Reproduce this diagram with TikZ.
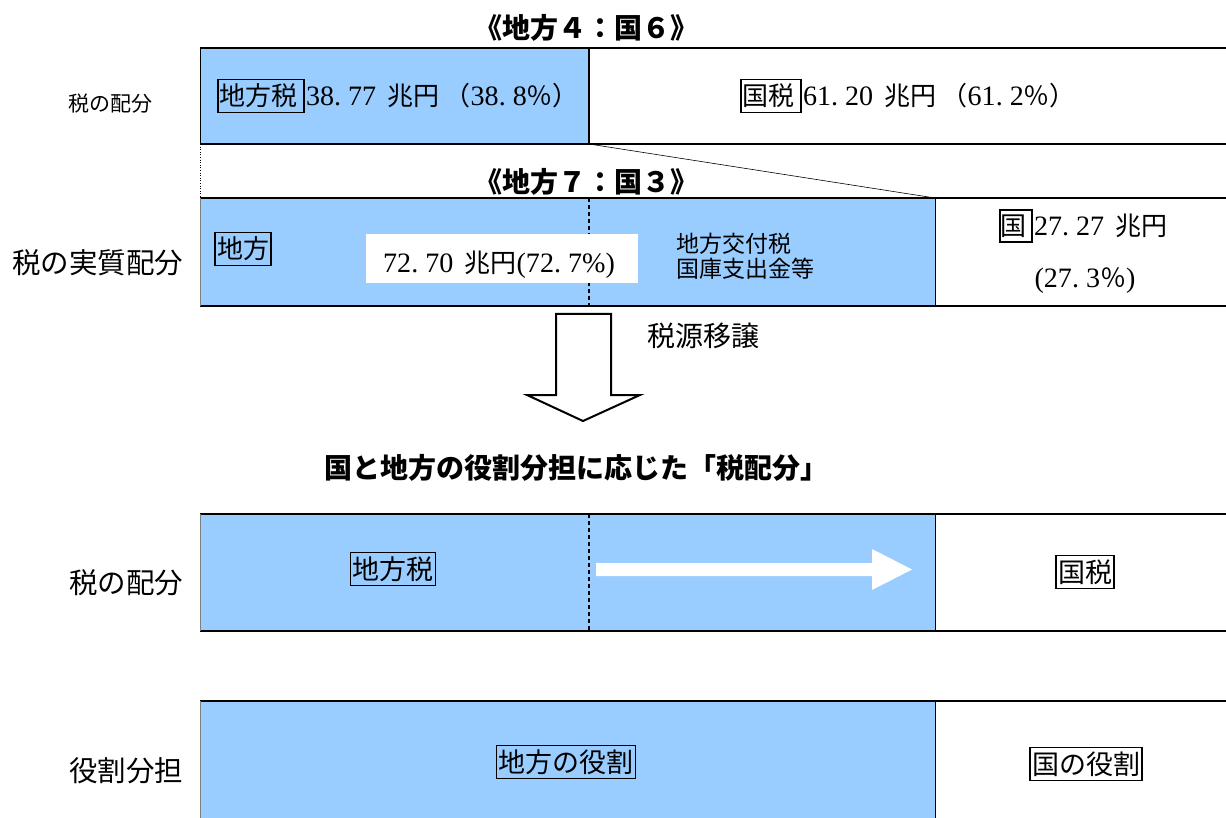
\documentclass[tikz,border=0pt]{standalone}
\usepackage{fontspec}
\setmainfont[Scale=1.08]{Liberation Serif}
\newfontfamily\jp{Noto Sans CJK JP}
\usetikzlibrary{calc}
\definecolor{lblue}{RGB}{153,204,255}
\newcommand{\pd}{\makebox[0.5em][l]{.}}
\tikzset{
  hline/.style={line width=2pt},
  vthin/.style={line width=0.8pt},
  divdash/.style={line width=1.2pt, dash pattern=on 4pt off 3pt},
  boxlbl/.style={draw, line width=1.4pt, inner xsep=2pt, inner ysep=4.5pt, font=\jp\fontsize{26}{30}\selectfont},
  boxlblb/.style={boxlbl, inner ysep=4pt, font=\jp\fontsize{27}{30}\selectfont},
  txt/.style={inner sep=0pt, font=\fontsize{26}{30}\selectfont},
  jptxt/.style={inner sep=0pt, font=\jp\fontsize{#1}{#1}\selectfont},
  title/.style={inner sep=0pt, font=\jp\bfseries\fontsize{28}{30}\selectfont},
}
\begin{document}
\begin{tikzpicture}[x=1pt,y=-1pt]
\useasboundingbox (0,0) rectangle (1226,818);
\clip (0,0) rectangle (1226,818);
% ---------- row 1 ----------
\fill[lblue] (200,48) rectangle (589,144);
\draw[hline] (200,48) -- (1240,48);
\draw[hline] (200,144) -- (1240,144);
\draw[vthin] (200,48) -- (200,144);
\draw[line width=2pt] (589,48) -- (589,144);
\node[title] (t1) at (586,28) {《地方４：国６》};
\node[jptxt=21] (lab1) at (110,104) {税の配分};
\node[boxlbl, fill=lblue] (b1) at (261,96) {地方税\,};
\node[txt, anchor=west] (n1) at ($(b1.east)+(1,0)$) {38\pd77\hspace{0.4em}{\jp 兆円\hspace{0.2em}（}38\pd8{\jp ％）}};
\node[boxlbl, fill=white] (b2) at (771,96) {国税\,};
\node[txt, anchor=west] (n2) at ($(b2.east)+(1,0)$) {61\pd20\hspace{0.4em}{\jp 兆円\hspace{0.2em}（}61\pd2{\jp ％）}};
% connectors between rows
\coordinate (c1) at (589,144);
\coordinate (c2) at (935,198);
\coordinate (c3) at (200,144);
\coordinate (c4) at (200,198);
\draw[line width=0.6pt] (c1) -- (c2);
\draw[line width=0.6pt, dotted] (c3) -- (c4);
% ---------- row 2 ----------
\node[title] (t2) at (586,182) {《地方７：国３》};
\fill[lblue] (200,198) rectangle (935,306);
\draw[hline] (200,198) -- (1240,198);
\draw[hline] (200,306) -- (1240,306);
\draw[vthin, gray] (200,198) -- (200,306);
\draw[vthin] (935,198) -- (935,306);
\draw[divdash] (589,198) -- (589,306);
\node[jptxt=28.5] (lab2) at (98,263) {税の実質配分};
\node[boxlbl, fill=lblue] (b3) at (243,249) {地方};
\node[fill=white, minimum width=272pt, minimum height=49pt, inner sep=0pt] (wb) at (502,258.5) {};
\node[txt, anchor=west] (n3) at (383,265) {72\pd70\hspace{0.4em}{\jp 兆円}(72\pd7\%)};
\node[inner sep=0pt, font=\jp\fontsize{23}{25}\selectfont, anchor=west, align=left] (n4) at (676,256) {地方交付税\\国庫支出金等};
\node[boxlbl, fill=white, inner xsep=1pt] (b4) at (1016,226) {国\,};
\node[txt, anchor=west] (n5) at ($(b4.east)+(1,0)$) {27\pd27\hspace{0.4em}{\jp 兆円}};
\node[txt] (n6) at (1085,281) {(27\pd3{\jp ％})};
% ---------- block arrow ----------
\draw[line width=2pt, fill=white, line join=miter]
  (556,314) -- (611,314) -- (611,395) -- (640,395) -- (583,421) -- (527,395) -- (556,395) -- cycle;
\node[jptxt=28, anchor=west] (n7) at (647,336) {税源移譲};
\node[title] (t3) at (576,468) {国と地方の役割分担に応じた「税配分」};
% ---------- row 3 ----------
\fill[lblue] (200,514) rectangle (935,631);
\draw[hline] (200,514) -- (1240,514);
\draw[hline] (200,631) -- (1240,631);
\draw[vthin, gray] (200,514) -- (200,631);
\draw[vthin] (935,514) -- (935,631);
\draw[divdash] (589,514) -- (589,631);
\fill[white] (596,563) -- (872,563) -- (872,549) -- (912,569.5) -- (872,590) -- (872,576) -- (596,576) -- cycle;
\node[jptxt=28.5] (lab3) at (126,583) {税の配分};
\node[boxlblb, fill=lblue] (b5) at (393,569) {地方税};
\node[boxlblb, fill=white] (b6) at (1085,572) {国税};
% ---------- row 4 ----------
\fill[lblue] (200,701) rectangle (935,830);
\draw[hline] (200,701) -- (1240,701);
\draw[vthin, gray] (200,701) -- (200,830);
\draw[vthin] (935,701) -- (935,830);
\node[jptxt=28.5] (lab4) at (126,771) {役割分担};
\node[boxlblb, fill=lblue] (b7) at (566,762) {地方の役割};
\node[boxlblb, fill=white] (b8) at (1086,764) {国の役割};
\end{tikzpicture}
\end{document}
